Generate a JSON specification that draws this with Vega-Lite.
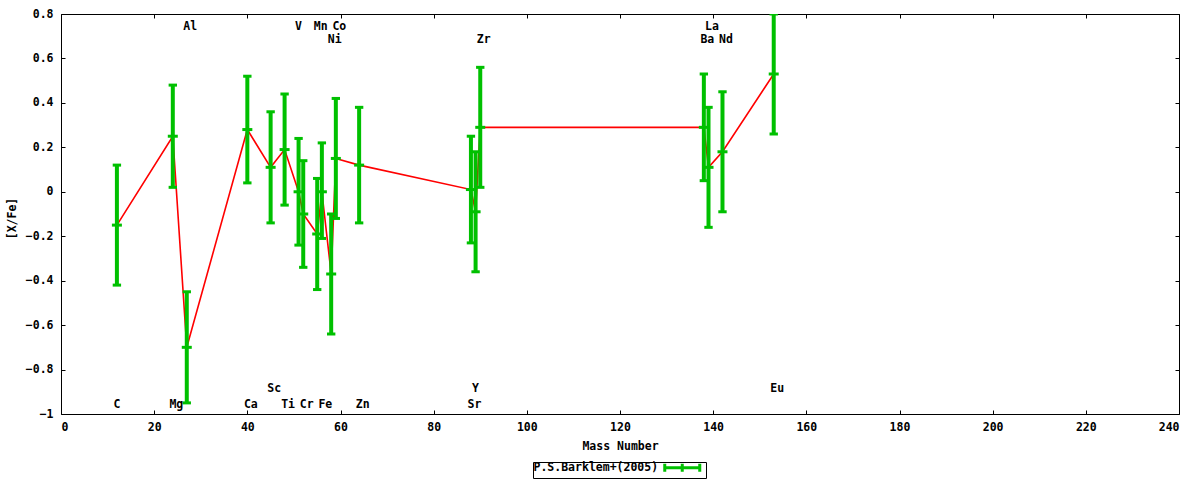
{
  "$schema": "https://vega.github.io/schema/vega-lite/v6.json",
  "width": 1118,
  "height": 400,
  "autosize": {"type": "none"},
  "padding": {"left": 61, "top": 14, "right": 21, "bottom": 66},
  "background": "white",
  "data": {
    "values": [
      {"el": "C", "mass": 12, "val": -0.15, "lo": -0.42, "hi": 0.12, "ly": -0.95},
      {"el": "Mg", "mass": 24, "val": 0.25, "lo": 0.02, "hi": 0.48, "ly": -0.95},
      {"el": "Al", "mass": 27, "val": -0.70, "lo": -0.95, "hi": -0.45, "ly": 0.75},
      {"el": "Ca", "mass": 40, "val": 0.28, "lo": 0.04, "hi": 0.52, "ly": -0.95},
      {"el": "Sc", "mass": 45, "val": 0.11, "lo": -0.14, "hi": 0.36, "ly": -0.88},
      {"el": "Ti", "mass": 48, "val": 0.19, "lo": -0.06, "hi": 0.44, "ly": -0.95},
      {"el": "V", "mass": 51, "val": 0.00, "lo": -0.24, "hi": 0.24, "ly": 0.75},
      {"el": "Cr", "mass": 52, "val": -0.10, "lo": -0.34, "hi": 0.14, "ly": -0.95},
      {"el": "Mn", "mass": 55, "val": -0.19, "lo": -0.44, "hi": 0.06, "ly": 0.75},
      {"el": "Fe", "mass": 56, "val": 0.00, "lo": -0.21, "hi": 0.22, "ly": -0.95},
      {"el": "Ni", "mass": 58, "val": -0.37, "lo": -0.64, "hi": -0.10, "ly": 0.69},
      {"el": "Co", "mass": 59, "val": 0.15, "lo": -0.12, "hi": 0.42, "ly": 0.75},
      {"el": "Zn", "mass": 64, "val": 0.12, "lo": -0.14, "hi": 0.38, "ly": -0.95},
      {"el": "Sr", "mass": 88, "val": 0.01, "lo": -0.23, "hi": 0.25, "ly": -0.95},
      {"el": "Y", "mass": 89, "val": -0.09, "lo": -0.36, "hi": 0.18, "ly": -0.88},
      {"el": "Zr", "mass": 90, "val": 0.29, "lo": 0.02, "hi": 0.56, "ly": 0.69},
      {"el": "Ba", "mass": 138, "val": 0.29, "lo": 0.05, "hi": 0.53, "ly": 0.69},
      {"el": "La", "mass": 139, "val": 0.11, "lo": -0.16, "hi": 0.38, "ly": 0.75},
      {"el": "Nd", "mass": 142, "val": 0.18, "lo": -0.09, "hi": 0.45, "ly": 0.69},
      {"el": "Eu", "mass": 153, "val": 0.53, "lo": 0.26, "hi": 0.80, "ly": -0.88}
    ]
  },
  "layer": [
    {
      "mark": {"type": "line", "color": "#ff0000", "strokeWidth": 1.6, "clip": true},
      "encoding": {
        "x": {"field": "mass", "type": "quantitative",
              "scale": {"domain": [0, 240], "nice": false, "zero": false},
              "axis": {"orient": "bottom", "values": [0,20,40,60,80,100,120,140,160,180,200,220,240],
                       "title": "Mass Number", "labelPadding": 11, "titleY": 32, "titleBaseline": "middle"}},
        "y": {"field": "val", "type": "quantitative",
              "scale": {"domain": [-1, 0.8], "nice": false, "zero": false},
              "axis": {"orient": "left", "values": [-1,-0.8,-0.6,-0.4,-0.2,0,0.2,0.4,0.6,0.8],
                       "format": "~g", "title": "[X/Fe]", "labelPadding": 12,
                       "titleX": -49, "titleY": 204, "titleBaseline": "middle"}}
      }
    },
    {
      "mark": {"type": "rule", "strokeWidth": 4, "clip": true},
      "encoding": {
        "x": {"field": "mass", "type": "quantitative", "axis": null},
        "y": {"field": "lo", "type": "quantitative", "axis": null},
        "y2": {"field": "hi"},
        "color": {"datum": "P.S.Barklem+(2005)", "type": "nominal",
                  "scale": {"range": ["#00c000"]},
                  "legend": {"title": null, "orient": "none", "legendX": 472, "legendY": 448,
                             "padding": 0, "strokeColor": "black", "labelOffset": -11,
                             "labelExpr": "datum.label + '         '",
                             "symbolType": "M 63 0 L 80.5 0 M 63 -2 L 63 2 M 71.75 -2 L 71.75 2 M 80.5 -2 L 80.5 2",
                             "symbolSize": 16, "symbolStrokeWidth": 3, "symbolFillColor": "transparent"}}
      }
    },
    {
      "mark": {"type": "point", "shape": "M -1 0 L 1 0", "filled": false, "size": 70, "strokeWidth": 3, "color": "#00c000", "opacity": 1, "clip": true},
      "encoding": {
        "x": {"field": "mass", "type": "quantitative", "axis": null},
        "y": {"field": "lo", "type": "quantitative", "axis": null}
      }
    },
    {
      "mark": {"type": "point", "shape": "M -1 0 L 1 0", "filled": false, "size": 70, "strokeWidth": 3, "color": "#00c000", "opacity": 1, "clip": true},
      "encoding": {
        "x": {"field": "mass", "type": "quantitative", "axis": null},
        "y": {"field": "hi", "type": "quantitative", "axis": null}
      }
    },
    {
      "mark": {"type": "point", "shape": "M -1 0 L 1 0", "filled": false, "size": 100, "strokeWidth": 3, "color": "#00c000", "opacity": 1, "clip": true},
      "encoding": {
        "x": {"field": "mass", "type": "quantitative", "axis": null},
        "y": {"field": "val", "type": "quantitative", "axis": null}
      }
    },
    {
      "transform": [{"filter": "length(datum.el) > 1"}],
      "mark": {"type": "text", "font": "DejaVu Sans Mono", "fontWeight": "bold", "fontSize": 11.5, "color": "black", "align": "center", "baseline": "middle", "dx": 3.5, "dy": 2},
      "encoding": {
        "x": {"field": "mass", "type": "quantitative",
              "axis": {"orient": "top", "values": [0,20,40,60,80,100,120,140,160,180,200,220,240], "labels": false, "title": null}},
        "y": {"field": "ly", "type": "quantitative",
              "axis": {"orient": "right", "values": [-1,-0.8,-0.6,-0.4,-0.2,0,0.2,0.4,0.6,0.8], "labels": false, "title": null}},
        "text": {"field": "el"}
      }
    },
    {
      "transform": [{"filter": "length(datum.el) == 1"}],
      "mark": {"type": "text", "font": "DejaVu Sans Mono", "fontWeight": "bold", "fontSize": 11.5, "color": "black", "align": "center", "baseline": "middle", "dx": 0, "dy": 2},
      "encoding": {
        "x": {"field": "mass", "type": "quantitative", "axis": null},
        "y": {"field": "ly", "type": "quantitative", "axis": null},
        "text": {"field": "el"}
      }
    }
  ],
  "config": {
    "view": {"stroke": "black", "strokeWidth": 1},
    "axis": {"domain": false, "grid": false, "tickSize": -4, "tickColor": "black", "tickWidth": 1,
             "labelFont": "DejaVu Sans Mono", "labelFontWeight": "bold", "labelFontSize": 11.5, "labelColor": "black",
             "titleFont": "DejaVu Sans Mono", "titleFontWeight": "bold", "titleFontSize": 11.5, "titleColor": "black"},
    "legend": {"labelFont": "DejaVu Sans Mono", "labelFontWeight": "bold", "labelFontSize": 11.5, "labelColor": "black"}
  }
}
